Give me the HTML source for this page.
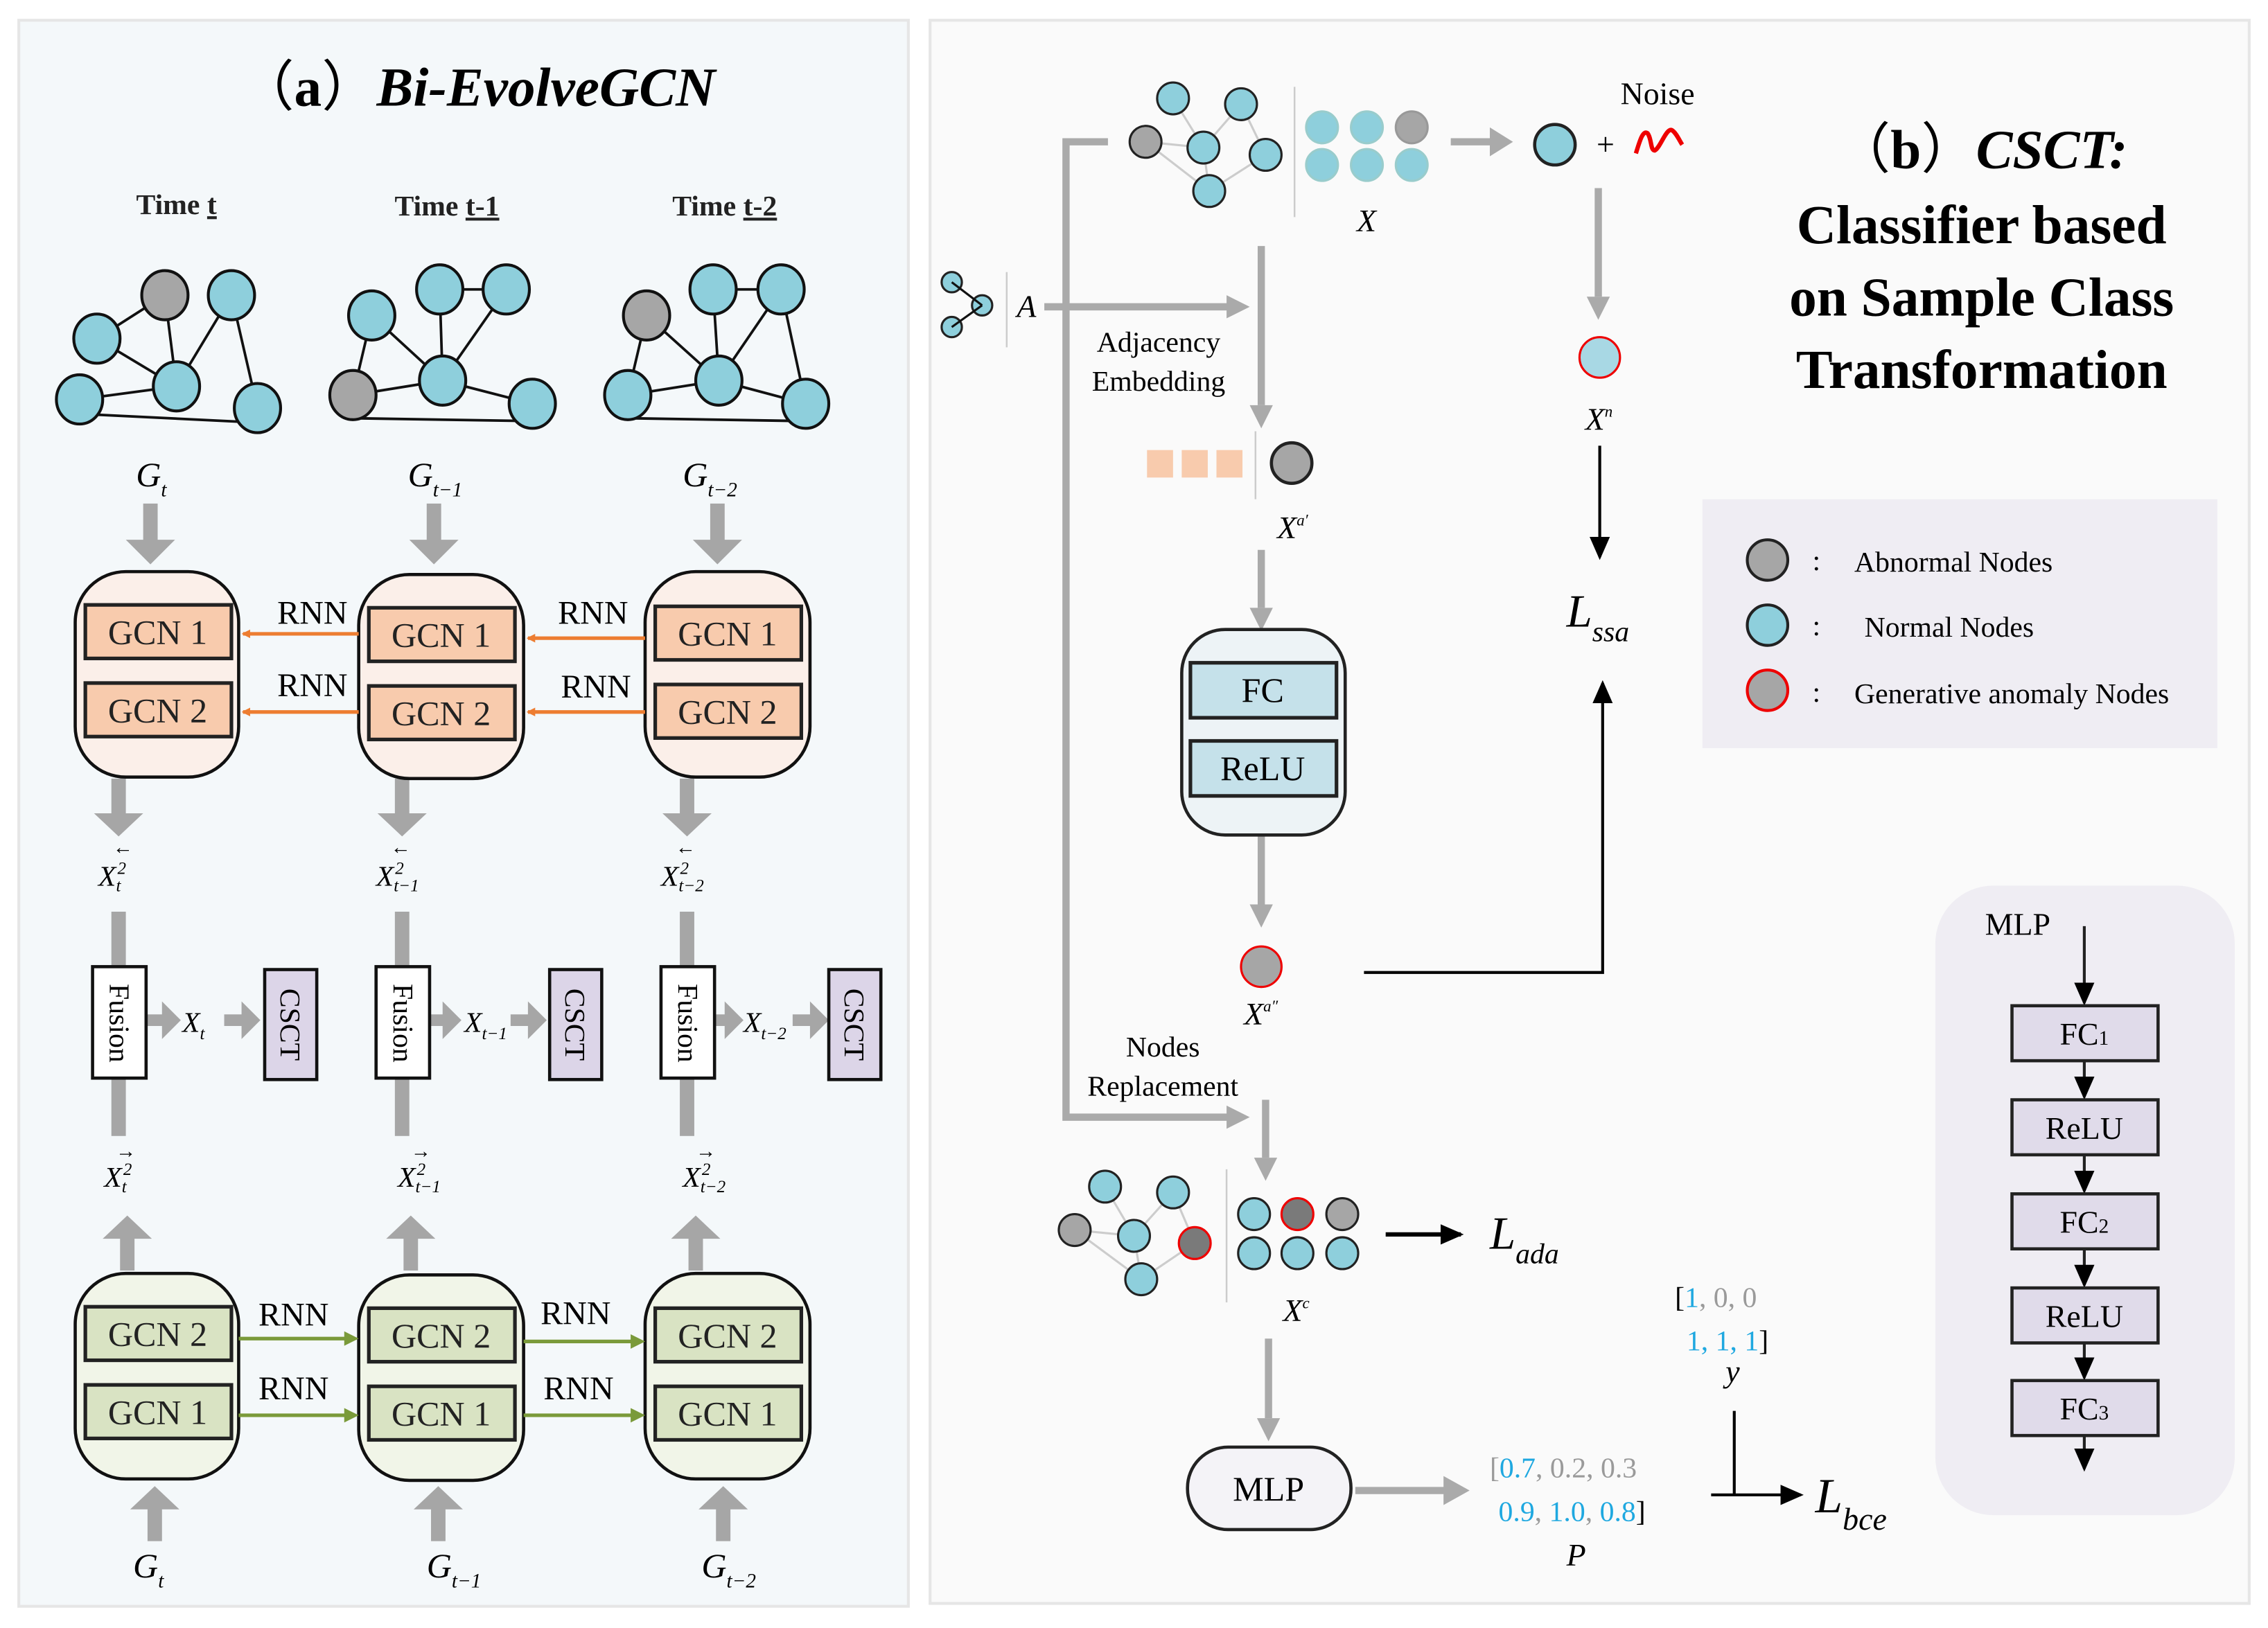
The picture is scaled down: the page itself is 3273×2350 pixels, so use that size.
<!DOCTYPE html>
<html><head><meta charset="utf-8"><style>
html,body{margin:0;padding:0;background:#fff}
svg{display:block;font-family:"Liberation Serif","DejaVu Serif",serif}
svg text{font-family:"Liberation Serif","DejaVu Serif",serif}
</style></head><body>
<svg width="3273" height="2350" viewBox="0 0 1568 1125" preserveAspectRatio="none" xmlns="http://www.w3.org/2000/svg" font-family="Liberation Serif, DejaVu Serif, serif">
<defs>
<marker id="ob" markerWidth="6" markerHeight="6" refX="5" refY="3" orient="auto" markerUnits="userSpaceOnUse" viewBox="0 0 6 6"><path d="M0,0L6,3L0,6z" fill="#ed7d31"/></marker>
<marker id="bk" markerWidth="16" markerHeight="16" refX="14" refY="8" orient="auto" markerUnits="userSpaceOnUse"><path d="M0,1L16,8L0,15z" fill="#000"/></marker>
</defs>
<rect width="1568" height="1125" fill="#fff"/>
<rect x="13" y="14" width="615" height="1096" fill="#f4f8fa" stroke="#e6e6e6" stroke-width="2"/>
<rect x="643" y="14" width="912" height="1094" fill="#fafafa" stroke="#e6e6e6" stroke-width="2"/>

<text x="330" y="73" font-size="38" text-anchor="middle" font-weight="bold"><tspan font-weight="normal">（</tspan>a<tspan font-weight="normal">）</tspan><tspan font-style="italic">Bi-EvolveGCN</tspan></text>
<g font-size="20" font-weight="bold" text-anchor="middle" fill="#222">
<text x="122" y="148">Time <tspan text-decoration="underline">t</tspan></text>
<text x="309" y="149">Time <tspan text-decoration="underline">t-1</tspan></text>
<text x="501" y="149">Time <tspan text-decoration="underline">t-2</tspan></text>
</g>
<g stroke="#111" stroke-width="1.8">
<line x1="114" y1="204" x2="67" y2="234"/><line x1="114" y1="204" x2="122" y2="267"/><line x1="160" y1="204" x2="122" y2="267"/><line x1="160" y1="204" x2="178" y2="282"/><line x1="67" y1="234" x2="122" y2="267"/><line x1="55" y1="276" x2="122" y2="267"/><line x1="55" y1="286" x2="178" y2="292"/>
<line x1="304" y1="200" x2="350" y2="200"/><line x1="304" y1="200" x2="306" y2="263"/><line x1="350" y1="200" x2="306" y2="263"/><line x1="257" y1="218" x2="306" y2="263"/><line x1="257" y1="218" x2="244" y2="273"/><line x1="244" y1="273" x2="306" y2="263"/><line x1="306" y1="263" x2="368" y2="279"/><line x1="244" y1="289" x2="368" y2="291"/>
<line x1="493" y1="200" x2="540" y2="200"/><line x1="493" y1="200" x2="497" y2="263"/><line x1="540" y1="200" x2="497" y2="263"/><line x1="447" y1="218" x2="497" y2="263"/><line x1="447" y1="218" x2="434" y2="273"/><line x1="434" y1="273" x2="497" y2="263"/><line x1="497" y1="263" x2="557" y2="279"/><line x1="540" y1="200" x2="557" y2="279"/><line x1="434" y1="289" x2="557" y2="291"/>
</g>
<g stroke="#111" stroke-width="2" fill="#8ecfdc">
<ellipse cx="114" cy="204" rx="16" ry="17" fill="#a6a6a6"/><ellipse cx="160" cy="204" rx="16" ry="17"/><ellipse cx="67" cy="234" rx="16" ry="17"/><ellipse cx="122" cy="267" rx="16" ry="17"/><ellipse cx="55" cy="276" rx="16" ry="17"/><ellipse cx="178" cy="282" rx="16" ry="17"/>
<ellipse cx="257" cy="218" rx="16" ry="17"/><ellipse cx="304" cy="200" rx="16" ry="17"/><ellipse cx="350" cy="200" rx="16" ry="17"/><ellipse cx="306" cy="263" rx="16" ry="17"/><ellipse cx="244" cy="273" rx="16" ry="17" fill="#a6a6a6"/><ellipse cx="368" cy="279" rx="16" ry="17"/>
<ellipse cx="447" cy="218" rx="16" ry="17" fill="#a6a6a6"/><ellipse cx="493" cy="200" rx="16" ry="17"/><ellipse cx="540" cy="200" rx="16" ry="17"/><ellipse cx="497" cy="263" rx="16" ry="17"/><ellipse cx="434" cy="273" rx="16" ry="17"/><ellipse cx="557" cy="279" rx="16" ry="17"/>
</g>
<g font-size="24" font-style="italic">
<text x="94" y="336">G<tspan font-size="14" dy="7">t</tspan></text>
<text x="282" y="336">G<tspan font-size="14" dy="7">t−1</tspan></text>
<text x="472" y="336">G<tspan font-size="14" dy="7">t−2</tspan></text>
<text x="92" y="1090">G<tspan font-size="14" dy="7">t</tspan></text>
<text x="295" y="1090">G<tspan font-size="14" dy="7">t−1</tspan></text>
<text x="485" y="1090">G<tspan font-size="14" dy="7">t−2</tspan></text>
</g>
<g fill="#a6a6a6">
<path d="M99,348h10v25h12l-17,17l-17,-17h12z"/>
<path d="M295,348h10v25h12l-17,17l-17,-17h12z"/>
<path d="M491,348h10v25h12l-17,17l-17,-17h12z"/>
<path d="M77,538h10v24h12l-17,16l-17,-16h12z"/>
<path d="M273,538h10v24h12l-17,16l-17,-16h12z"/>
<path d="M470,538h10v24h12l-17,16l-17,-16h12z"/>
<path d="M83,878h10v-22h12l-17,-16l-17,16h12z"/>
<path d="M279,878h10v-22h12l-17,-16l-17,16h12z"/>
<path d="M476,878h10v-22h12l-17,-16l-17,16h12z"/>
<path d="M102,1065h10v-22h12l-17,-16l-17,16h12z"/>
<path d="M298,1065h10v-22h12l-17,-16l-17,16h12z"/>
<path d="M495,1065h10v-22h12l-17,-16l-17,16h12z"/>
<rect x="77" y="630" width="10" height="38"/><rect x="77" y="745" width="10" height="40"/>
<rect x="273" y="630" width="10" height="38"/><rect x="273" y="745" width="10" height="40"/>
<rect x="470" y="630" width="10" height="38"/><rect x="470" y="745" width="10" height="40"/>
<path d="M102,701h10v-9l13,13l-13,13v-9h-10z"/><path d="M155,701h12v-9l13,13l-13,13v-9h-12z"/>
<path d="M298,701h8v-9l13,13l-13,13v-9h-8z"/><path d="M353,701h12v-9l13,13l-13,13v-9h-12z"/>
<path d="M493,701h8v-9l13,13l-13,13v-9h-8z"/><path d="M548,701h12v-9l13,13l-13,13v-9h-12z"/>
</g>
<g stroke="#111" stroke-width="2.2">
<rect x="52" y="395" width="113" height="142" rx="35" fill="#fbefe9"/>
<rect x="248" y="397" width="114" height="141" rx="35" fill="#fbefe9"/>
<rect x="446" y="395" width="114" height="142" rx="35" fill="#fbefe9"/>
<rect x="52" y="880" width="113" height="142" rx="35" fill="#f1f5e8"/>
<rect x="248" y="881" width="114" height="142" rx="35" fill="#f1f5e8"/>
<rect x="446" y="880" width="114" height="142" rx="35" fill="#f1f5e8"/>
</g>
<g stroke="#222" stroke-width="2.5" fill="#f8cbad">
<rect x="59" y="418" width="101" height="37"/><rect x="59" y="472" width="101" height="37"/>
<rect x="255" y="420" width="101" height="37"/><rect x="255" y="474" width="101" height="37"/>
<rect x="453" y="419" width="101" height="37"/><rect x="453" y="473" width="101" height="37"/>
</g>
<g stroke="#222" stroke-width="2.5" fill="#d9e3c3">
<rect x="59" y="903" width="101" height="37"/><rect x="59" y="957" width="101" height="37"/>
<rect x="255" y="904" width="101" height="37"/><rect x="255" y="958" width="101" height="37"/>
<rect x="453" y="904" width="101" height="37"/><rect x="453" y="958" width="101" height="37"/>
</g>
<g font-size="24" text-anchor="middle" fill="#222">
<text x="109" y="445">GCN 1</text><text x="109" y="499">GCN 2</text>
<text x="305" y="447">GCN 1</text><text x="305" y="501">GCN 2</text>
<text x="503" y="446">GCN 1</text><text x="503" y="500">GCN 2</text>
<text x="109" y="930">GCN 2</text><text x="109" y="984">GCN 1</text>
<text x="305" y="931">GCN 2</text><text x="305" y="985">GCN 1</text>
<text x="503" y="931">GCN 2</text><text x="503" y="985">GCN 1</text>
</g>
<g stroke="#ed7d31" stroke-width="2.5" marker-end="url(#ob)">
<line x1="248" y1="438" x2="168" y2="438"/><line x1="248" y1="492" x2="168" y2="492"/>
<line x1="446" y1="441" x2="365" y2="441"/><line x1="446" y1="492" x2="365" y2="492"/>
</g>
<g stroke="#7a9a3a" stroke-width="2.5">
<line x1="165" y1="925" x2="240" y2="925"/><line x1="165" y1="978" x2="240" y2="978"/>
<line x1="362" y1="927" x2="438" y2="927"/><line x1="362" y1="978" x2="438" y2="978"/>
</g>
<g fill="#7a9a3a">
<path d="M248,925l-10,-5v10z"/><path d="M248,978l-10,-5v10z"/><path d="M446,927l-10,-5v10z"/><path d="M446,978l-10,-5v10z"/>
</g>
<g font-size="23" text-anchor="middle">
<text x="216" y="431">RNN</text><text x="216" y="481">RNN</text>
<text x="410" y="431">RNN</text><text x="412" y="482">RNN</text>
<text x="203" y="916">RNN</text><text x="203" y="967">RNN</text>
<text x="398" y="915">RNN</text><text x="400" y="967">RNN</text>
</g>
<g font-size="20" font-style="italic">
<text x="68" y="612">X<tspan font-size="12" dx="1" dy="-8">2</tspan><tspan font-size="12" dx="-7" dy="12">t</tspan></text>
<text x="78" y="590" font-size="14" font-style="normal">←</text>
<text x="260" y="612">X<tspan font-size="12" dx="1" dy="-8">2</tspan><tspan font-size="12" dx="-7" dy="12">t−1</tspan></text>
<text x="270" y="590" font-size="14" font-style="normal">←</text>
<text x="457" y="612">X<tspan font-size="12" dx="1" dy="-8">2</tspan><tspan font-size="12" dx="-7" dy="12">t−2</tspan></text>
<text x="467" y="590" font-size="14" font-style="normal">←</text>
<text x="72" y="820">X<tspan font-size="12" dx="1" dy="-8">2</tspan><tspan font-size="12" dx="-7" dy="12">t</tspan></text>
<text x="80" y="800" font-size="14" font-style="normal">→</text>
<text x="275" y="820">X<tspan font-size="12" dx="1" dy="-8">2</tspan><tspan font-size="12" dx="-7" dy="12">t−1</tspan></text>
<text x="284" y="800" font-size="14" font-style="normal">→</text>
<text x="472" y="820">X<tspan font-size="12" dx="1" dy="-8">2</tspan><tspan font-size="12" dx="-7" dy="12">t−2</tspan></text>
<text x="481" y="800" font-size="14" font-style="normal">→</text>
<text x="126" y="713">X<tspan font-size="12" dy="5">t</tspan></text>
<text x="321" y="713">X<tspan font-size="12" dy="5">t−1</tspan></text>
<text x="514" y="713">X<tspan font-size="12" dy="5">t−2</tspan></text>
</g>
<g stroke="#111" stroke-width="2.2">
<rect x="64" y="668" width="37" height="77" fill="#fff"/><rect x="260" y="668" width="37" height="77" fill="#fff"/><rect x="457" y="668" width="37" height="77" fill="#fff"/>
<rect x="183" y="670" width="36" height="76" fill="#dcd5e8"/><rect x="380" y="670" width="36" height="76" fill="#dcd5e8"/><rect x="573" y="670" width="36" height="76" fill="#dcd5e8"/>
</g>
<g font-size="20">
<text transform="translate(76,707) rotate(90)" text-anchor="middle">Fusion</text>
<text transform="translate(272,707) rotate(90)" text-anchor="middle">Fusion</text>
<text transform="translate(469,707) rotate(90)" text-anchor="middle">Fusion</text>
<text transform="translate(194,708) rotate(90)" text-anchor="middle">CSCT</text>
<text transform="translate(391,708) rotate(90)" text-anchor="middle">CSCT</text>
<text transform="translate(584,708) rotate(90)" text-anchor="middle">CSCT</text>
</g>

<g stroke="#aaa" stroke-width="5" fill="none">
<polyline points="766,98 737,98 737,772 850,772"/>
<line x1="722" y1="212" x2="850" y2="212"/>
<line x1="872" y1="170" x2="872" y2="280"/>
<line x1="872" y1="380" x2="872" y2="420"/>
<line x1="872" y1="578" x2="872" y2="625"/>
<line x1="875" y1="760" x2="875" y2="800"/>
<line x1="1105" y1="130" x2="1105" y2="205"/>
<line x1="1003" y1="98" x2="1032" y2="98"/>
<line x1="877" y1="925" x2="877" y2="980"/>
<line x1="937" y1="1030" x2="1000" y2="1030"/>
</g>
<g fill="#aaa">
<path d="M848,204l16,8l-16,8z"/><path d="M848,764l16,8l-16,8z"/>
<path d="M864,280l8,16l8,-16z"/><path d="M864,420l8,16l8,-16z"/><path d="M864,625l8,16l8,-16z"/><path d="M867,800l8,16l8,-16z"/>
<path d="M1097,205l8,16l8,-16z"/><path d="M869,980l8,16l8,-16z"/>
<path d="M1030,88l16,10l-16,10z"/><path d="M998,1020l18,10l-18,10z"/>
</g>
<g stroke="#ccc" stroke-width="1.5">
<line x1="811" y1="68" x2="832" y2="102"/><line x1="858" y1="72" x2="832" y2="102"/><line x1="792" y1="98" x2="832" y2="102"/><line x1="832" y1="102" x2="836" y2="132"/><line x1="875" y1="107" x2="836" y2="132"/><line x1="858" y1="72" x2="875" y2="107"/><line x1="792" y1="98" x2="836" y2="132"/>
<line x1="764" y1="820" x2="784" y2="854"/><line x1="811" y1="824" x2="784" y2="854"/><line x1="743" y1="850" x2="784" y2="854"/><line x1="784" y1="854" x2="789" y2="884"/><line x1="826" y1="859" x2="789" y2="884"/><line x1="811" y1="824" x2="826" y2="859"/><line x1="743" y1="850" x2="789" y2="884"/>
</g>
<g stroke="#ccc" stroke-width="1.2"><line x1="895" y1="60" x2="895" y2="150"/><line x1="696" y1="188" x2="696" y2="240"/><line x1="868" y1="298" x2="868" y2="345"/><line x1="848" y1="808" x2="848" y2="900"/></g>
<g stroke="#222" stroke-width="1.5" fill="#8ecfdc">
<circle cx="811" cy="68" r="11"/><circle cx="858" cy="72" r="11"/><circle cx="792" cy="98" r="11" fill="#a6a6a6"/><circle cx="832" cy="102" r="11"/><circle cx="875" cy="107" r="11"/><circle cx="836" cy="132" r="11"/>
<circle cx="914" cy="88" r="11" stroke="#9cc"/><circle cx="945" cy="88" r="11" stroke="#9cc"/><circle cx="976" cy="88" r="11" fill="#a6a6a6" stroke="#999"/>
<circle cx="914" cy="114" r="11" stroke="#9cc"/><circle cx="945" cy="114" r="11" stroke="#9cc"/><circle cx="976" cy="114" r="11" stroke="#9cc"/>
<circle cx="764" cy="820" r="11"/><circle cx="811" cy="824" r="11"/><circle cx="743" cy="850" r="11" fill="#a6a6a6"/><circle cx="784" cy="854" r="11"/><circle cx="826" cy="859" r="11" fill="#7a7a7a" stroke="#e00"/><circle cx="789" cy="884" r="11"/>
<circle cx="867" cy="839" r="11"/><circle cx="897" cy="839" r="11" fill="#7a7a7a" stroke="#e00"/><circle cx="928" cy="839" r="11" fill="#a6a6a6"/>
<circle cx="867" cy="866" r="11"/><circle cx="897" cy="866" r="11"/><circle cx="928" cy="866" r="11"/>
<circle cx="1075" cy="100" r="14" stroke-width="2.2"/>
<circle cx="1106" cy="247" r="14" fill="#a8d8e4" stroke="#e00"/>
<circle cx="893" cy="320" r="14" fill="#a6a6a6" stroke-width="2.2"/>
<circle cx="872" cy="668" r="14" fill="#a6a6a6" stroke="#e00"/>
<circle cx="658" cy="195" r="7"/><circle cx="679" cy="211" r="7"/><circle cx="658" cy="226" r="7"/>
</g>
<g stroke="#111" stroke-width="1.5"><line x1="658" y1="195" x2="679" y2="211"/><line x1="658" y1="226" x2="679" y2="211"/></g>
<g fill="#f8cbad"><rect x="793" y="311" width="18" height="19"/><rect x="817" y="311" width="18" height="19"/><rect x="841" y="311" width="18" height="19"/></g>
<path d="M1131,106 C1134,96 1136,90 1139,92 C1142,96 1141,104 1144,104 C1148,102 1152,88 1156,90 C1159,92 1161,97 1163,100" stroke="#e00" stroke-width="3" fill="none"/>
<g font-size="22">
<text x="1146" y="72" text-anchor="middle">Noise</text>
<text x="1110" y="107" text-anchor="middle" font-size="22">+</text>
<text x="801" y="243" text-anchor="middle" font-size="20">Adjacency</text>
<text x="801" y="270" text-anchor="middle" font-size="20">Embedding</text>
<text x="804" y="730" text-anchor="middle" font-size="20">Nodes</text>
<text x="804" y="757" text-anchor="middle" font-size="20">Replacement</text>
</g>
<g font-size="22" font-style="italic">
<text x="938" y="160">X</text>
<text x="703" y="219">A</text>
<text x="1096" y="297">X<tspan font-size="11" dy="-9">n</tspan></text>
<text x="883" y="372">X<tspan font-size="11" dy="-9">a′</tspan></text>
<text x="860" y="708">X<tspan font-size="11" dy="-9">a″</tspan></text>
<text x="887" y="913">X<tspan font-size="11" dy="-9">c</tspan></text>
<text x="1083" y="1082">P</text>
<text x="1193" y="955">y</text>
<text x="1083" y="433" font-size="32">L<tspan font-size="20" dy="10">ssa</tspan></text>
<text x="1030" y="863" font-size="32">L<tspan font-size="20" dy="10">ada</tspan></text>
<text x="1255" y="1045" font-size="34">L<tspan font-size="22" dy="12">bce</tspan></text>
</g>
<rect x="817" y="435" width="113" height="142" rx="30" fill="#edf3f6" stroke="#222" stroke-width="2.2"/>
<rect x="823" y="458" width="101" height="38" fill="#c5e1ea" stroke="#222" stroke-width="2.5"/>
<rect x="823" y="512" width="101" height="38" fill="#c5e1ea" stroke="#222" stroke-width="2.5"/>
<text x="873" y="485" font-size="24" text-anchor="middle">FC</text>
<text x="873" y="539" font-size="24" text-anchor="middle">ReLU</text>
<rect x="821" y="1000" width="113" height="57" rx="28" fill="#f4f3f7" stroke="#222" stroke-width="2.2"/>
<text x="877" y="1037" font-size="24" text-anchor="middle">MLP</text>
<g stroke="#000" stroke-width="2" fill="none">
<line x1="1106" y1="308" x2="1106" y2="385" marker-end="url(#bk)"/>
<polyline points="943,672 1108,672 1108,472" marker-end="url(#bk)"/>
<line x1="958" y1="853" x2="1010" y2="853" stroke-width="3" marker-end="url(#bk)"/>
<line x1="1199" y1="975" x2="1199" y2="1033"/>
<line x1="1183" y1="1033" x2="1245" y2="1033" marker-end="url(#bk)"/>
</g>
<g font-size="20" fill="#9a9a9a">
<text x="1030" y="1021">[<tspan fill="#1fa8e0">0.7</tspan>,  0.2,  0.3</text>
<text x="1036" y="1051"><tspan fill="#1fa8e0">0.9</tspan>,  <tspan fill="#1fa8e0">1.0</tspan>,  <tspan fill="#1fa8e0">0.8</tspan><tspan fill="#000">]</tspan></text>
<text x="1158" y="903"><tspan fill="#000">[</tspan><tspan fill="#1fa8e0">1</tspan>,  0,  0</text>
<text x="1166" y="933" fill="#1fa8e0">1,  1,  1<tspan fill="#000">]</tspan></text>
</g>
<g font-weight="bold" text-anchor="middle" font-size="38">
<text x="1370" y="116"><tspan font-weight="normal">（</tspan>b<tspan font-weight="normal">）</tspan><tspan font-style="italic">CSCT:</tspan></text>
<text x="1370" y="168">Classifier based</text>
<text x="1370" y="218">on Sample Class</text>
<text x="1370" y="268">Transformation</text>
</g>
<rect x="1177" y="345" width="356" height="172" fill="#efedf3"/>
<g stroke="#222" stroke-width="2">
<circle cx="1222" cy="387" r="14" fill="#a6a6a6"/><circle cx="1222" cy="432" r="14" fill="#8ecfdc"/><circle cx="1222" cy="477" r="14" fill="#a6a6a6" stroke="#e00"/>
</g>
<g font-size="20">
<text x="1253" y="394">:</text><text x="1253" y="439">:</text><text x="1253" y="485">:</text>
<text x="1282" y="395">Abnormal Nodes</text><text x="1289" y="440">Normal Nodes</text><text x="1282" y="486">Generative anomaly Nodes</text>
</g>
<rect x="1338" y="612" width="207" height="435" rx="40" fill="#efedf3"/>
<text x="1395" y="646" font-size="22" text-anchor="middle">MLP</text>
<g stroke="#222" stroke-width="2" marker-end="url(#bk)">
<line x1="1441" y1="640" x2="1441" y2="693"/>
<line x1="1441" y1="733" x2="1441" y2="758"/>
<line x1="1441" y1="798" x2="1441" y2="823"/>
<line x1="1441" y1="863" x2="1441" y2="888"/>
<line x1="1441" y1="928" x2="1441" y2="952"/>
<line x1="1441" y1="992" x2="1441" y2="1015"/>
</g>
<g fill="#e0dbea" stroke="#222" stroke-width="2.2">
<rect x="1391" y="695" width="101" height="38"/><rect x="1391" y="760" width="101" height="38"/><rect x="1391" y="825" width="101" height="38"/><rect x="1391" y="890" width="101" height="38"/><rect x="1391" y="954" width="101" height="38"/>
</g>
<g font-size="22" text-anchor="middle">
<text x="1441" y="722">FC<tspan font-size="14">1</tspan></text><text x="1441" y="787">ReLU</text><text x="1441" y="852">FC<tspan font-size="14">2</tspan></text><text x="1441" y="917">ReLU</text><text x="1441" y="981">FC<tspan font-size="14">3</tspan></text>
</g>
</svg>
</body></html>
